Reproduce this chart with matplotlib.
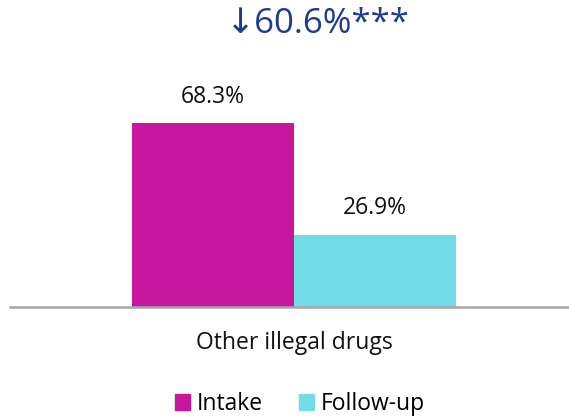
import matplotlib.pyplot as plt
from matplotlib.patches import Patch

plt.rcParams['font.family'] = ['Open Sans', 'DejaVu Sans']

categoria = 'Other illegal drugs'
series = ['Intake', 'Follow-up']
valores = [68.3, 26.9]
colores = ['#C7179F', '#72DCE6']
cambio = '\u219360.6%***'

fig = plt.figure(figsize=(5.69, 4.18), dpi=100)
ax = fig.add_axes([10 / 569, (418 - 307) / 418, 559 / 569, 307 / 418])

ancho = 0.29
offsets = [-ancho / 2, ancho / 2]
for off, v, c in zip(offsets, valores, colores):
    ax.bar(off, v, width=ancho, color=c, zorder=2)
    ax.text(off, v + 5.3, f'{v}%', ha='center', va='bottom', fontsize=16.5, color='#111111')

ax.set_xlim(-0.508, 0.492)
ax.set_ylim(0, 114)
for lado in ['top', 'right', 'left']:
    ax.spines[lado].set_visible(False)
ax.spines['bottom'].set_color('#A6A6A6')
ax.spines['bottom'].set_linewidth(1.8)
ax.set_yticks([])
ax.set_xticks([0])
ax.set_xticklabels([categoria], fontsize=16.5, color='#111111')
ax.tick_params(axis='x', length=0, pad=17)

fig.text(318 / 569, 1 - 24 / 418, cambio, ha='center', va='center',
         fontsize=25, color='#1F3A93')

handles = [Patch(color=c) for c in colores]
fig.legend(handles, series, loc='center', bbox_to_anchor=(300 / 569, 1 - 404 / 418),
           ncol=2, frameon=False, fontsize=16.5, handlelength=0.65, handleheight=0.65,
           handletextpad=0.3, columnspacing=1.6)

fig.savefig('out.png', dpi=100)
